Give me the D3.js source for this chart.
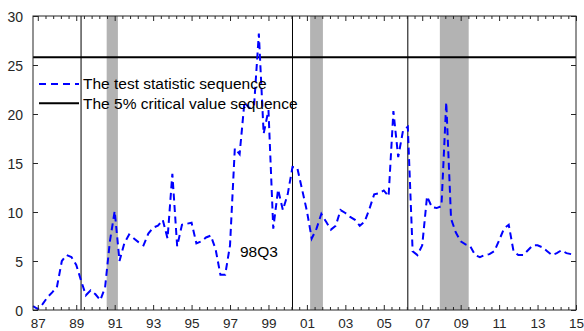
<!DOCTYPE html>
<html><head><meta charset="utf-8">
<script src="https://cdn.jsdelivr.net/npm/d3@7"></script>
<style>body{margin:0;background:#fff}svg{display:block}text{font-family:"Liberation Sans",Arial,sans-serif}</style>
</head><body><svg id="c" width="584" height="331"></svg>
<script>
// quarterly test statistic, first quarter 1986Q4
const startYear = 1986.75;
const testStat = [0.4,0.1,0.6,1.3,1.8,2.4,5.0,5.6,5.4,4.6,3.0,1.5,2.0,1.6,1.0,2.3,7.0,10.1,5.0,6.8,
7.7,7.3,6.9,6.6,7.8,8.4,8.6,9.2,7.3,13.9,6.5,8.7,8.8,8.9,6.8,7.0,7.4,7.6,6.2,3.6,
3.6,6.6,16.5,15.9,21.2,20.6,20.8,28.2,18.0,20.4,8.3,12.3,10.2,11.8,14.6,14.5,12.3,10.1,7.3,8.3,
9.8,9.0,8.2,8.6,10.2,9.9,9.5,9.2,8.6,9.0,10.3,11.8,11.9,12.2,11.6,20.3,15.6,18.3,18.7,6.0,
5.6,6.6,11.6,10.5,10.4,10.6,21.2,9.3,7.9,7.0,6.7,6.5,5.6,5.4,5.6,5.7,6.0,7.1,8.3,8.7,
6.0,5.6,5.6,6.1,6.6,6.6,6.4,6.0,5.6,5.8,6.1,5.8,5.7];
const criticalValue = 25.8;
const breakDates = [1989.25, 2000.25, 2006.25];
const recessionStart = [1990.583, 2001.167, 2007.917];
const recessionEnd = [1991.167, 2001.833, 2009.417];
const xTickYears = d3.range(1987, 2016, 2);
const yTicks = [0,5,10,15,20,25,30];
const legendLabels = ["The test statistic sequence", "The 5% critical value sequence"];
const annotationLabel = "98Q3";

const data = testStat.map((v,i)=>({t:startYear+i*0.25, v}));
const svg = d3.select("#c");
const L=33,R=576,T=16,B=310;
const x = d3.scaleLinear().domain([1986.75,2015.0]).range([L,R]);
const y = d3.scaleLinear().domain([0,30]).range([B,T]);
const axisCol="#262626";

// recession bands
svg.selectAll("rect.band").data(recessionStart).join("rect")
  .attr("x",(d)=>x(d)).attr("y",T)
  .attr("width",(d,i)=>x(recessionEnd[i])-x(d)).attr("height",B-T)
  .attr("fill","#b3b3b3");

// break lines
svg.selectAll("line.brk").data(breakDates).join("line")
  .attr("x1",d=>x(d)).attr("x2",d=>x(d)).attr("y1",T).attr("y2",B)
  .attr("stroke","#000").attr("stroke-width",1);

// critical value line
svg.append("line").attr("x1",L).attr("x2",R).attr("y1",y(criticalValue)).attr("y2",y(criticalValue))
  .attr("stroke","#000").attr("stroke-width",2);

// test statistic
svg.append("path").datum(data)
  .attr("d",d3.line().x(d=>x(d.t)).y(d=>y(d.v)))
  .attr("fill","none").attr("stroke","#0000ff").attr("stroke-width",2)
  .attr("stroke-dasharray","7,4.5");

// axes (inward ticks)
const minorAll = d3.range(1987,2015.01,0.4);
const minor = minorAll.filter(v=>!xTickYears.some(t=>Math.abs(t-v)<0.05));
const gB = svg.append("g").attr("transform",`translate(0,${B})`)
  .call(d3.axisBottom(x).tickValues(xTickYears).tickSizeInner(-5).tickSizeOuter(0)
   .tickFormat(d=>String(d%100).padStart(2,"0")).tickPadding(8));
const gT = svg.append("g").attr("transform",`translate(0,${T})`)
  .call(d3.axisTop(x).tickValues(xTickYears).tickSizeInner(-5).tickSizeOuter(0).tickFormat(""));
const gBm = svg.append("g").attr("transform",`translate(0,${B})`)
  .call(d3.axisBottom(x).tickValues(minor).tickSizeInner(-3).tickSizeOuter(0).tickFormat(""));
const gTm = svg.append("g").attr("transform",`translate(0,${T})`)
  .call(d3.axisTop(x).tickValues(minor).tickSizeInner(-3).tickSizeOuter(0).tickFormat(""));
const gL = svg.append("g").attr("transform",`translate(${L},0)`)
  .call(d3.axisLeft(y).tickValues(yTicks).tickSizeInner(-5).tickSizeOuter(0).tickPadding(10));
const gR = svg.append("g").attr("transform",`translate(${R},0)`)
  .call(d3.axisRight(y).tickValues(yTicks).tickSizeInner(-5).tickSizeOuter(0).tickFormat(""));
[gB,gT,gBm,gTm,gL,gR].forEach(g=>{
  g.select(".domain").remove();
  g.selectAll("line").attr("stroke",axisCol);
  g.selectAll("text").attr("fill",axisCol).style("font-size","14px").style("font-family","'Liberation Sans',Arial,sans-serif");
});
gL.selectAll("text").attr("dy","0.36em");
gB.selectAll("text").style("font-size","13.5px").attr("dy","0.71em");
svg.append("rect").attr("x",L).attr("y",T).attr("width",R-L).attr("height",B-T)
  .attr("fill","none").attr("stroke",axisCol).attr("stroke-width",1);

// legend
const lg = svg.append("g");
[0,1].forEach(i=>{
  const yy = 84 + i*19.3;
  lg.append("line").attr("x1",39).attr("x2",79).attr("y1",yy).attr("y2",yy)
    .attr("stroke", i===0?"#0000ff":"#000").attr("stroke-width",2)
    .attr("stroke-dasharray", i===0?"7,5":null);
  lg.append("text").attr("x",83).attr("y",yy+5.4).text(legendLabels[i])
    .style("font-size","15.5px").attr("fill","#000");
});

// annotation
svg.append("text").attr("x",240).attr("y",256.8).text(annotationLabel)
  .style("font-size","15.5px").attr("fill","#000");
</script></body></html>
